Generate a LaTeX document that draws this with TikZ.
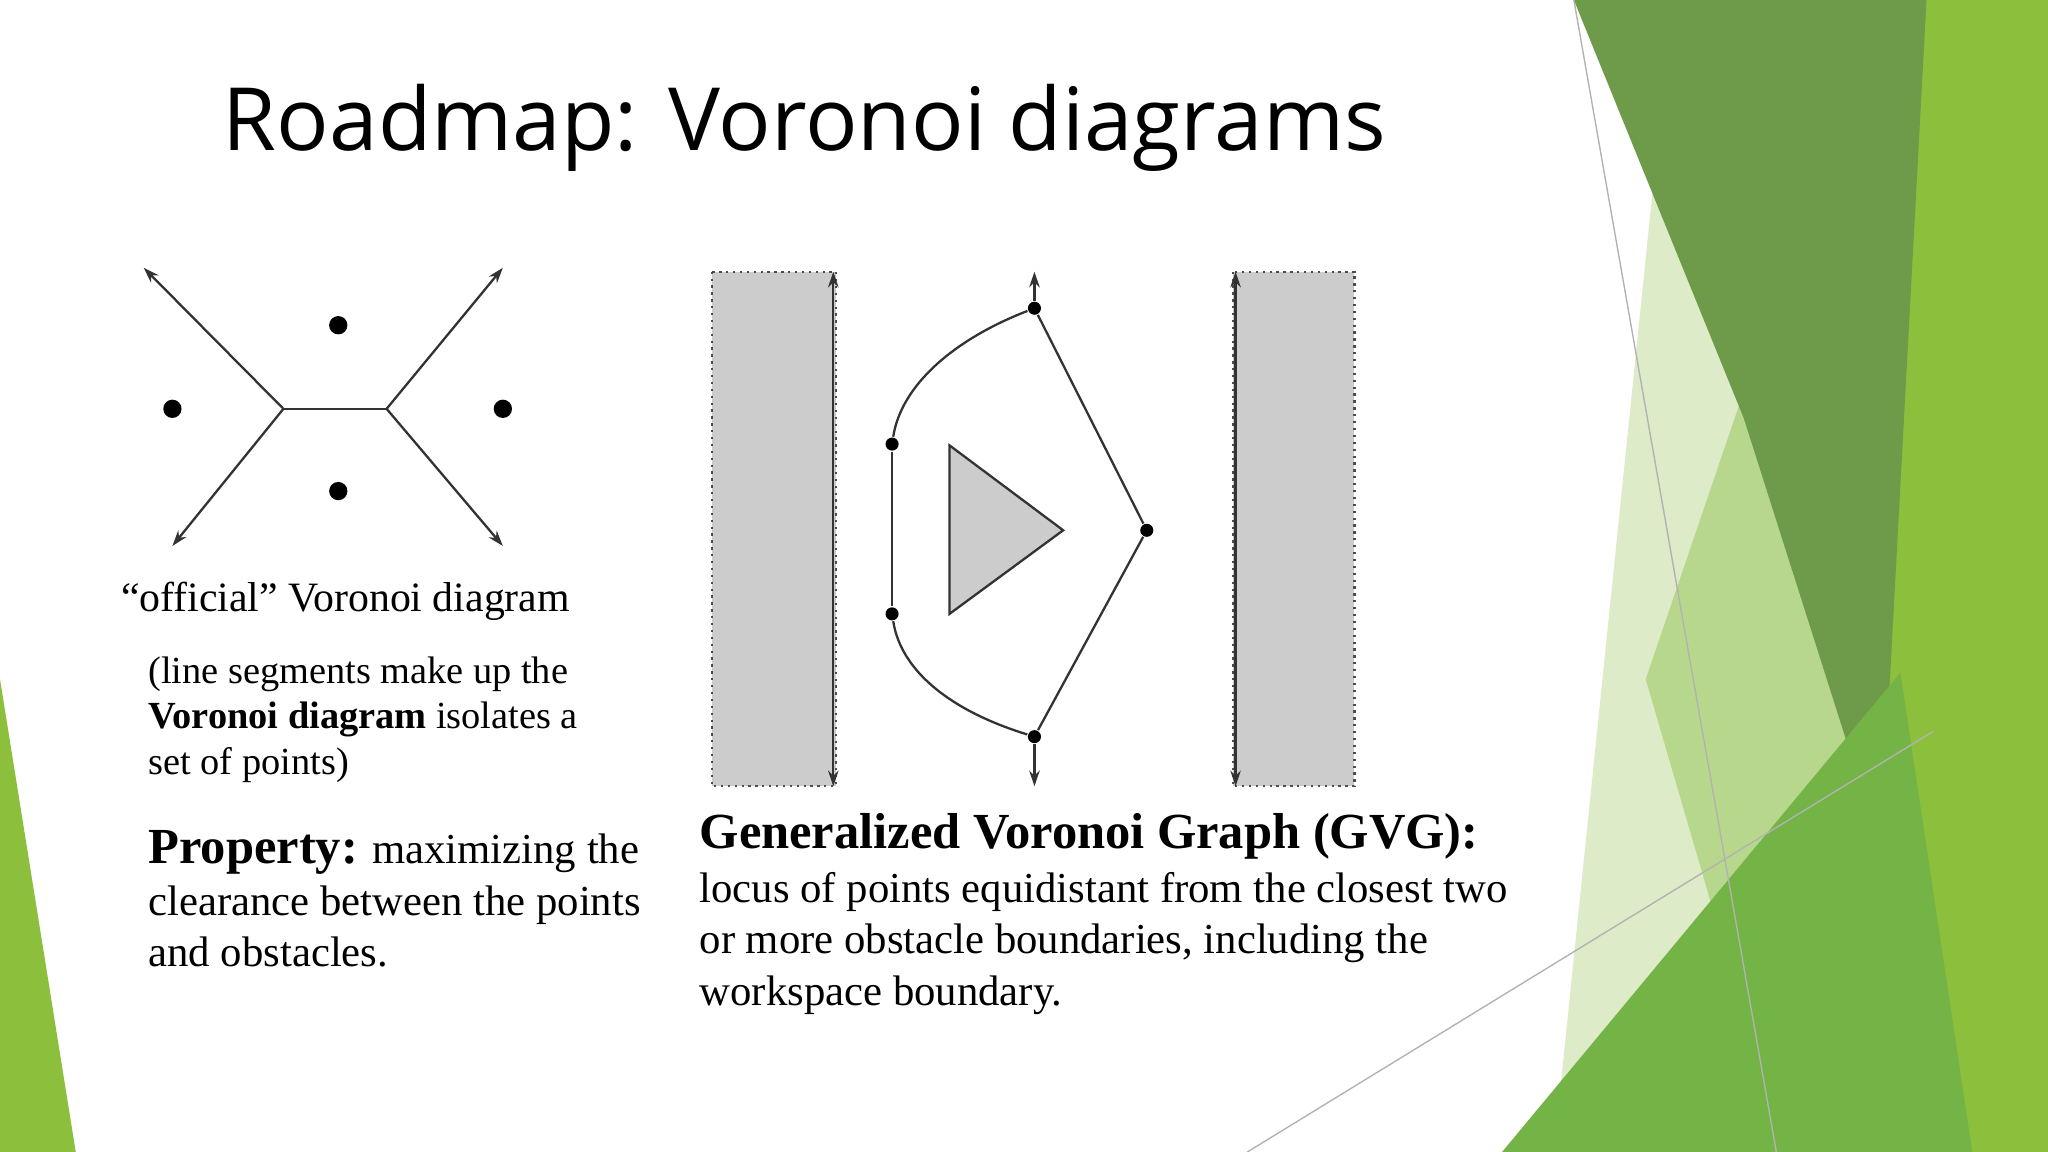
\documentclass[tikz,border=0pt]{standalone}
\usepackage{fontspec}
\setmainfont{Liberation Serif}
\newfontfamily\titlefont{Open Sans}
\usetikzlibrary{arrows.meta}
\definecolor{gdark}{HTML}{6E9B4A}
\definecolor{gbright}{HTML}{8CC03C}
\definecolor{gmed}{HTML}{74B446}
\definecolor{gpale}{HTML}{DDEBC8}
\definecolor{glight}{HTML}{B7D88C}
\definecolor{obst}{HTML}{CCCCCC}
\tikzset{
 txt/.style={anchor=base west,inner sep=0pt,font=\fontsize{8.35pt}{10pt}\selectfont},
 txtb/.style={anchor=base west,inner sep=0pt,font=\fontsize{9.3pt}{11pt}\selectfont},
 dot/.style={circle,fill=black,inner sep=0pt,minimum size=0.14cm},
 sdot/.style={circle,fill=black,inner sep=0pt,minimum size=0.1cm},
 edge/.style={draw=black!80,line width=0.5pt},
 arr/.style={edge,-{Stealth[length=1.2mm,width=0.8mm]}},
 obstacle/.style={fill=obst,draw=black!70,densely dotted,line width=0.5pt}
}
\begin{document}
\begin{tikzpicture}[x=0.01cm,y=-0.01cm]
\useasboundingbox (0,0) rectangle (1568,882);
% decorative greens
\fill[gpale] (1268,120) -- (1445,650) -- (1195,830) -- cycle;
\fill[glight] (1335,300) -- (1445,650) -- (1330,760) -- (1260,520) -- cycle;
\fill[gbright] (1440,0) -- (1568,0) -- (1568,882) -- (1400,882) -- (1435,650) -- cycle;
\fill[gdark] (1205,0) -- (1475,0) -- (1440,650) -- (1335,320) -- cycle;
\fill[gmed] (1150,882) -- (1455,515) -- (1510,882) -- cycle;
\fill[gbright] (0,520) -- (58,882) -- (0,882) -- cycle;
\draw[black!30,line width=0.3pt] (1205,0) -- (1360,882);
\draw[black!30,line width=0.3pt] (955,882) -- (1480,560);
% title
\node[anchor=base west,inner sep=0pt,font=\titlefont\fontsize{19pt}{22pt}\selectfont] (title) at (170,115) {Roadmap: Voronoi diagrams};
% left voronoi
\node[dot] (p1) at (259,249) {};
\node[dot] (p2) at (132,313) {};
\node[dot] (p3) at (385,313) {};
\node[dot] (p4) at (259,376) {};
\coordinate (v1) at (217,313);
\coordinate (v2) at (296,313);
\coordinate (e1) at (110,205);
\coordinate (e2) at (132,418);
\coordinate (e3) at (385,205);
\coordinate (e4) at (385,418);
\draw[edge] (v1) -- (v2);
\draw[arr] (v1) -- (e1);
\draw[arr] (v1) -- (e2);
\draw[arr] (v2) -- (e3);
\draw[arr] (v2) -- (e4);
% GVG
\draw[obstacle] (545,208) rectangle (640,602);
\draw[obstacle] (944,208) rectangle (1037,602);
\coordinate (r1t) at (638,208); \coordinate (r1b) at (638,602);
\coordinate (r2t) at (946,208); \coordinate (r2b) at (946,602);
\draw[arr,{Stealth[length=1.2mm,width=0.8mm]}-{Stealth[length=1.2mm,width=0.8mm]}] (r1t) -- (r1b);
\draw[arr,{Stealth[length=1.2mm,width=0.8mm]}-{Stealth[length=1.2mm,width=0.8mm]}] (r2t) -- (r2b);
\draw[fill=obst,draw=black!80,line width=0.5pt] (727,341) -- (727,470) -- (814,406) -- cycle;
\node[sdot] (A) at (792,236) {};
\node[sdot] (B) at (683,340) {};
\node[sdot] (C) at (683,470) {};
\node[sdot] (D) at (792,564) {};
\node[sdot] (E) at (878,406) {};
\coordinate (At) at (792,208);
\coordinate (Db) at (792,602);
\draw[arr] (A) -- (At);
\draw[arr] (D) -- (Db);
\draw[edge] (A) -- (E) -- (D);
\draw[edge] (B) -- (C);
\draw[edge] (B) .. controls (690,295) and (730,260) .. (A);
\draw[edge] (C) .. controls (690,515) and (730,545) .. (D);
% texts
\node[anchor=base west,inner sep=0pt,font=\fontsize{9.1pt}{11pt}\selectfont] (cap) at (92,468) {“official” Voronoi diagram};
\node[txt] (l1) at (113,523) {(line segments make up the};
\node[txt] (l2) at (113,558) {\textbf{Voronoi diagram} isolates a};
\node[txt] (l3) at (113,593) {set of points)};
\node[txtb] (q1) at (113,661) {{\fontsize{11pt}{12pt}\selectfont\textbf{Property:}} maximizing the};
\node[txtb] (q2) at (113,701) {clearance between the points};
\node[txtb] (q3) at (113,740) {and obstacles.};
\node[anchor=base west,inner sep=0pt,font=\fontsize{11pt}{12pt}\selectfont\bfseries] (g0) at (535,650) {Generalized Voronoi Graph (GVG):};
\node[txtb] (g1) at (535,691) {locus of points equidistant from the closest two};
\node[txtb] (g2) at (535,730) {or more obstacle boundaries, including the};
\node[txtb] (g3) at (535,770) {workspace boundary.};
\end{tikzpicture}
\end{document}
